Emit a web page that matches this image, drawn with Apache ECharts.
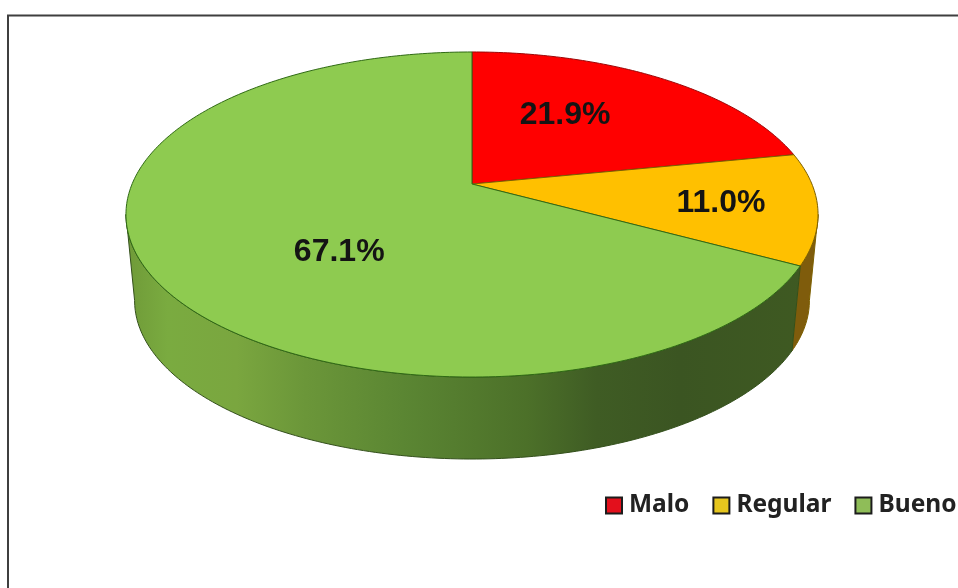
<!DOCTYPE html>
<html><head><meta charset="utf-8">
<style>html,body{margin:0;padding:0;background:#fff}#c{width:958px;height:588px}</style>
<script src="https://cdn.jsdelivr.net/npm/echarts@6/dist/echarts.min.js"></script>
</head><body><div id="c"></div>
<script>
const categories = ['Malo', 'Regular', 'Bueno'];
const shares = [21.9, 11.0, 67.1];
const topColors = ['#ff0000', '#ffc000', '#8ecb50'];
const edgeColors = ['#9c0606', '#7d6000', '#2f6a14'];
const legendColors = ['#e3101c', '#e6c61e', '#8fbd58'];
const labelNudges = [[-37, 4], [23, 3], [73, 12]];

// Perspective of the tilted disc
const view = {cx: 472, cy: 184, R: 339.9, S: 156.8, k: 0.1877, bottomScale: 0.975, bottomCy: 270.8};
// Only this stretch of the rim faces the viewer (percent of the turn)
const frontRim = [28, 72];
const wallStops = [
  [0, '#6f9a38'], [0.06, '#7aab40'], [0.16, '#7aa63f'], [0.26, '#6b9639'], [0.4, '#5b8633'],
  [0.58, '#4c7029'], [0.68, '#3f5c24'], [0.8, '#3b5522'], [1, '#3f5a22']
];
const wallFills = [
  '#7d0000', '#7f5c0c',
  {type: 'linear', global: true, x: 126, y: 0, x2: 818, y2: 0,
   colorStops: wallStops.map(s => ({offset: s[0], color: s[1]}))}
];

function project(pct, r, scale, cy) {
  const a = pct / 100 * 2 * Math.PI;
  const u = r * Math.sin(a), v = r * Math.cos(a), w = 1 + view.k * v;
  return [view.cx + scale * view.R * u / w, cy - scale * view.S * v / w];
}
function arc(from, to, scale, cy) {
  const pts = [], n = Math.max(2, Math.ceil((to - from) * 4));
  for (let i = 0; i <= n; i++) pts.push(project(from + (to - from) * i / n, 1, scale, cy));
  return pts;
}
function renderSlice(idx) {
  return function (params, api) {
    const value = api.value(0);
    const from = shares.slice(0, idx).reduce((a, b) => a + b, 0);
    const to = from + value;
    const wallFrom = Math.max(from, frontRim[0]), wallTo = Math.min(to, frontRim[1]);
    const topArc = arc(from, to, 1, view.cy);
    const mid = project((from + to) / 2, 0.66, 1, view.cy);
    const children = [];
    if (wallTo > wallFrom) {
      children.push({type: 'polygon', z2: 1, silent: true,
        shape: {points: arc(wallFrom, wallTo, 1, view.cy)
          .concat(arc(wallFrom, wallTo, view.bottomScale, view.bottomCy).reverse())},
        style: {fill: wallFills[idx], stroke: idx === 2 ? '#34501c' : edgeColors[idx], lineWidth: 1}});
    }
    children.push(
      {type: 'polygon', z2: 10, silent: true,
       shape: {points: [[view.cx, view.cy]].concat(topArc)},
       style: {fill: api.visual('color'), stroke: edgeColors[idx], lineWidth: 1}},
      {type: 'text', z2: 20, silent: true,
       x: mid[0] + labelNudges[idx][0], y: mid[1] + labelNudges[idx][1],
       style: {text: value.toFixed(1) + '%', fill: '#141414', align: 'center', verticalAlign: 'middle',
               font: 'bold 32px "Liberation Sans", Arial, sans-serif'}}
    );
    return {type: 'group', children};
  };
}

const chart = echarts.init(document.getElementById('c'), null, {renderer: 'canvas'});
chart.setOption({
  animation: false,
  backgroundColor: '#ffffff',
  graphic: [{type: 'polyline', silent: true,
    shape: {points: [[8, 600], [8, 15.5], [970, 15.5]]},
    style: {fill: 'none', stroke: '#3f3f3f', lineWidth: 2}}],
  legend: {
    left: 605, top: 493, itemWidth: 16, itemHeight: 16, itemGap: 23, padding: 0,
    selectedMode: false,
    textStyle: {fontFamily: '"Noto Sans", sans-serif', fontWeight: 'bold', fontSize: 24.5, color: '#222', padding: [0, 0, 0, 2]},
    data: categories.map((name, i) => ({
      name, icon: 'rect',
      itemStyle: {color: legendColors[i], borderColor: '#1c1c1c', borderWidth: 2}
    }))
  },
  series: categories.map((name, i) => ({
    type: 'custom', name, coordinateSystem: 'none', silent: true,
    itemStyle: {color: topColors[i]},
    data: [[shares[i]]],
    renderItem: renderSlice(i)
  }))
});
</script></body></html>
